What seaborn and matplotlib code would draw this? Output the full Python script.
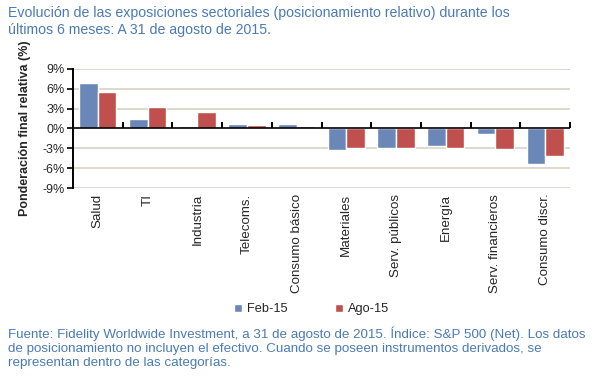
import pandas as pd
import numpy as np
import matplotlib
matplotlib.use("Agg")
import matplotlib.pyplot as plt
import seaborn as sns

# Data
sectores = ["Salud", "TI", "Industria", "Telecoms.", "Consumo básico",
            "Materiales", "Serv. públicos", "Energía", "Serv. financieros",
            "Consumo discr."]
feb_15 = [6.8, 1.4, 0.4, 0.7, 0.7, -3.2, -3.0, -2.7, -0.9, -5.3]
ago_15 = [5.5, 3.2, 2.5, 0.5, 0.4, -3.0, -3.0, -3.0, -3.1, -4.2]
series = ["Feb-15", "Ago-15"]
yticks = [-9, -6, -3, 0, 3, 6, 9]

df = pd.DataFrame({
    "sector": sectores * 2,
    "serie": [series[0]] * len(sectores) + [series[1]] * len(sectores),
    "valor": feb_15 + ago_15,
})

sns.set_style("white")
plt.rcParams["font.family"] = ["Liberation Sans", "DejaVu Sans"]

blue_txt = "#4A7AB5"
fig = plt.figure(figsize=(5.95, 3.87), dpi=100)
ax = fig.add_axes([0.1227, 0.514, 0.8353, 0.308])

sns.barplot(data=df, x="sector", y="valor", hue="serie", order=sectores,
            hue_order=series, palette=["#6B87B7", "#C0504D"], width=0.75,
            gap=0, saturation=1, ax=ax, legend=True, zorder=2)

ax.set_ylim(-9, 9)
ax.set_xlim(-0.5, len(sectores) - 0.5)
ax.set_yticks(yticks)
ax.set_yticklabels([f"{v}%" for v in yticks], fontsize=9)
for v in yticks:
    if v != 0:
        ax.axhline(v, color="#DDD9CC", lw=1.4, zorder=0)
ax.axhline(0, color="black", lw=1.2, zorder=3)

ax.set_xticks(range(len(sectores)))
ax.set_xticklabels(sectores, rotation=90, fontsize=9.6)
ax.tick_params(axis="x", length=0, pad=4)
ax.tick_params(axis="y", length=4, width=1.2, color="black", direction="out", pad=2, left=True)

for s in ["top", "right", "bottom"]:
    ax.spines[s].set_visible(False)
ax.spines["left"].set_color("black")
ax.spines["left"].set_linewidth(1.4)

# tick marks on the zero line between categories
sec = ax.secondary_xaxis(0.5)
sec.set_xticks(np.arange(len(sectores) + 1) - 0.5)
sec.set_xticklabels([])
sec.tick_params(length=4, width=1.4, color="black", direction="out")
for s in sec.spines.values():
    s.set_visible(False)

ax.set_xlabel("")
ax.set_ylabel("Ponderación final relativa (%)", fontsize=9, fontweight="bold", labelpad=8)

leg = ax.legend(loc="upper center", bbox_to_anchor=(0.48, -0.87), ncol=2,
                frameon=False, fontsize=9.2, handlelength=0.6, handleheight=0.6,
                columnspacing=3.7, handletextpad=0.4)

fig.text(0.013, 0.985, "Evolución de las exposiciones sectoriales (posicionamiento relativo) durante los\n"
         "últimos 6 meses: A 31 de agosto de 2015.", fontsize=10.2, color=blue_txt,
         va="top", ha="left", linespacing=1.3)
fig.text(0.013, 0.157, "Fuente: Fidelity Worldwide Investment, a 31 de agosto de 2015. Índice: S&P 500 (Net). Los datos\n"
         "de posicionamiento no incluyen el efectivo. Cuando se poseen instrumentos derivados, se\n"
         "representan dentro de las categorías.", fontsize=9.6, color=blue_txt,
         va="top", ha="left", linespacing=1.22)

fig.savefig("out.png", dpi=100)
